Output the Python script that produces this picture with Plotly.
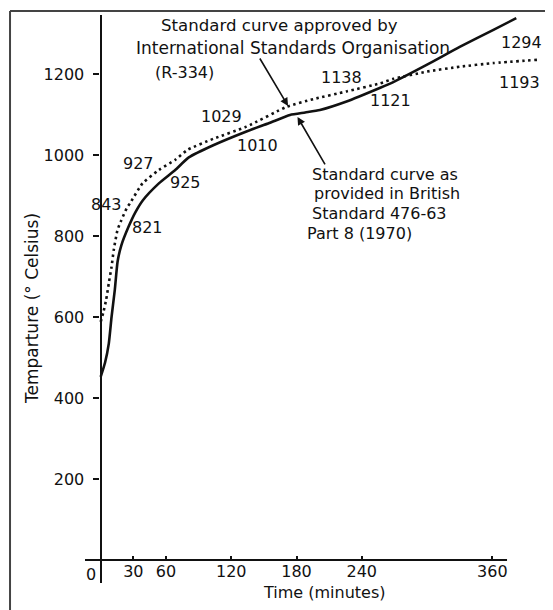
import plotly.graph_objects as go

# ---- data ----
# British Standard 476 Part 8 curve (solid)
bs_time = [0, 4, 7.5, 10, 13, 15.5, 19, 25.5, 32, 39, 53.5, 68.5, 81, 103.5, 134, 155, 174, 188, 201.5, 226, 257, 269, 300, 330, 361, 382]
bs_temp = [452, 487, 535, 600, 667, 736, 777, 822, 859, 889, 930, 963, 994, 1024, 1058, 1079, 1099, 1105, 1111, 1132, 1166, 1180, 1223, 1267, 1309, 1338]

# ISO R-834 curve (dotted)
iso_time = [0, 2.5, 5, 7.5, 10, 12, 15.5, 19, 24, 27, 38.5, 53.5, 68.5, 80, 103.5, 134, 171, 195.5, 226, 257, 269, 300, 330, 361, 401]
iso_temp = [588, 612, 642, 684, 724, 765, 815, 839, 869, 881, 930, 963, 988, 1013, 1040, 1070, 1119, 1138, 1157, 1177, 1188, 1206, 1218, 1227, 1235]

# value labels written along the curves
bs_labels = ["821", "925", "1010", "1121", "1294"]
iso_labels = ["843", "927", "1029", "1138", "1193"]

x_ticks = [30, 60, 120, 180, 240, 360]
y_ticks = [200, 400, 600, 800, 1000, 1200]

FONT = "DejaVu Sans"
INK = "#111111"

fig = go.Figure()
fig.add_trace(go.Scatter(x=bs_time, y=bs_temp, mode="lines",
                         line=dict(color=INK, width=2.6, shape="spline", smoothing=0.5),
                         showlegend=False, hoverinfo="skip"))
fig.add_trace(go.Scatter(x=iso_time, y=iso_temp, mode="lines",
                         line=dict(color=INK, width=2.6, dash="2.5px,3.5px", shape="spline", smoothing=0.5),
                         showlegend=False, hoverinfo="skip"))

XR = [-14.4, 408.4]
YR = [-56.8, 1345.7]

def ann(text, x, y, size=16, **kw):
    d = dict(text=text, x=x, y=y, xref="x", yref="y", showarrow=False,
             font=dict(family=FONT, size=size, color=INK))
    d.update(kw)
    return d

annotations = []
# value labels (positions beside the curves)
bs_pos = [(43.5, 822), (77.9, 931), (143.7, 1024), (266.8, 1134), (387.2, 1279)]
iso_pos = [(5.8, 878), (35.2, 980), (111.5, 1094), (220.9, 1192), (384.5, 1180)]
for t, (x, y) in zip(bs_labels, bs_pos):
    annotations.append(ann(t, x, y))
for t, (x, y) in zip(iso_labels, iso_pos):
    annotations.append(ann(t, x, y))

# descriptive texts
annotations.append(ann("Standard curve approved by", 164.8, 1321, size=16.6))
annotations.append(ann("International Standards Organisation", 176.8, 1264, size=17))
annotations.append(ann("(R-334)", 77.5, 1204))
annotations.append(ann("Standard curve as", 192.1, 952, xanchor="left"))
annotations.append(ann("provided in British", 194.2, 904, xanchor="left"))
annotations.append(ann("Standard 476-63", 192.1, 856, xanchor="left"))
annotations.append(ann("Part 8 (1970)", 187.8, 807, xanchor="left"))

# arrows
annotations.append(dict(text="", x=172.2, y=1121, ax=145.5, ay=1242, xref="x", yref="y",
                        axref="x", ayref="y", showarrow=True, arrowhead=2, arrowsize=1,
                        arrowwidth=1.6, arrowcolor=INK))
annotations.append(dict(text="", x=180.9, y=1094, ax=207, ay=973, xref="x", yref="y",
                        axref="x", ayref="y", showarrow=True, arrowhead=2, arrowsize=1,
                        arrowwidth=1.6, arrowcolor=INK))

# x "0" label left of the y axis
annotations.append(dict(text="0", x=0, y=0, xref="x", yref="y", showarrow=False,
                        xanchor="center", yanchor="top", xshift=-10, yshift=-3,
                        font=dict(family=FONT, size=16, color=INK)))
# axis titles
annotations.append(dict(text="Time (minutes)", x=0.5207, y=-0.0176, xref="paper", yref="paper",
                        showarrow=False, xanchor="center", yanchor="middle",
                        font=dict(family=FONT, size=16, color=INK)))
annotations.append(dict(text="Temparture (° Celsius)", x=-0.1152, y=0.4824, xref="paper", yref="paper",
                        showarrow=False, xanchor="center", yanchor="middle", textangle=-90,
                        font=dict(family=FONT, size=17, color=INK)))

x0_pos = (0 - XR[0]) / (XR[1] - XR[0])
y0_pos = (0 - YR[0]) / (YR[1] - YR[0])

shapes = [
    # x axis line (ends a little past 360)
    dict(type="line", xref="x", yref="y", x0=XR[0], x1=373.5, y0=0, y1=0,
         line=dict(color=INK, width=2)),
    # scan frame
    dict(type="line", xref="paper", yref="paper", x0=-0.163, x1=1.02, y0=1.007, y1=1.007,
         line=dict(color="#444", width=2)),
    dict(type="line", xref="paper", yref="paper", x0=-0.163, x1=-0.163, y0=1.007, y1=-0.05,
         line=dict(color="#444", width=2)),
]

# the page body adds an 8px margin, so the figure is 8px smaller than the window
fig.update_layout(
    width=545, height=602,
    margin=dict(l=77, r=8, t=7, b=27),
    paper_bgcolor="white", plot_bgcolor="white",
    font=dict(family=FONT, size=16, color=INK),
    xaxis=dict(range=XR, anchor="free", position=y0_pos, showgrid=False, zeroline=False,
               showline=False, tickmode="array", tickvals=x_ticks,
               ticktext=[str(v) for v in x_ticks], ticks="inside", ticklen=4,
               tickwidth=1.5, tickcolor=INK, tickfont=dict(family=FONT, size=16, color=INK)),
    yaxis=dict(range=YR, anchor="free", position=x0_pos, showgrid=False, zeroline=False,
               showline=True, linecolor=INK, linewidth=2.4, tickmode="array",
               tickvals=y_ticks, ticktext=[str(v) for v in y_ticks], ticks="outside",
               ticklen=6, tickwidth=1.5, tickcolor=INK, ticklabelstandoff=6,
               tickfont=dict(family=FONT, size=16, color=INK)),
    annotations=annotations,
    shapes=shapes,
)

fig.write_html("out.html")
